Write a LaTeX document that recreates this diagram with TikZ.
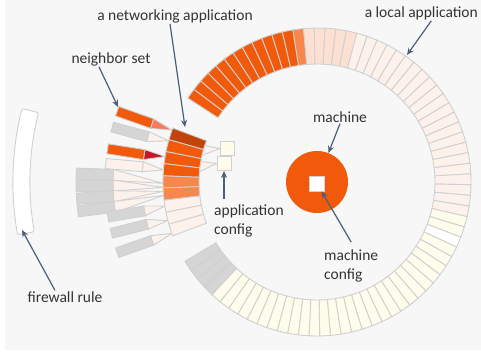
\documentclass[tikz,border=0pt]{standalone}
\usepackage{fontspec}
\setmainfont{Carlito}
\usepackage{xcolor}
\definecolor{nvbg}{HTML}{F7F7F7}
\definecolor{nvline}{HTML}{D0D0D0}
\definecolor{nvorange}{HTML}{F05A0A}
\definecolor{nvlight}{HTML}{F7874C}
\definecolor{nvdark}{HTML}{C2440A}
\definecolor{nvsalmon}{HTML}{F77A5C}
\definecolor{nvcrimson}{HTML}{C8152A}
\definecolor{nvpeach}{HTML}{FCE1D3}
\definecolor{nvpale}{HTML}{FDF1EC}
\definecolor{nvcream}{HTML}{FEFCEB}
\definecolor{nvgray}{HTML}{D5D5D5}
\definecolor{nvtext}{HTML}{333333}
\definecolor{nvarrow}{HTML}{4B5F7A}
\usepackage{tikz}
\usetikzlibrary{arrows.meta,positioning,calc}

\tikzset{
  segline/.style={draw=nvline,line width=0.9pt},
  cfgbox/.style={draw=nvline,fill=nvcream,line width=0.9pt,minimum size=14pt,inner sep=0pt},
  lbl/.style={text=nvtext,font=\fontsize{15.5}{19}\selectfont,inner sep=1pt},
  pointer/.style={draw=nvarrow,line width=1.2pt,-{Stealth[length=7pt,width=6pt]}},
}

\begin{document}
\begin{tikzpicture}[x=1pt,y=1pt]
\useasboundingbox (0,0) rectangle (481,352);
\fill[white] (0,0) rectangle (481,352);
\fill[nvbg] (5,2) rectangle (481,352);

\begin{scope}[shift={(317,170)}]
% ring of local applications
\foreach \first/\last/\col in {0/11/nvorange,12/12/nvlight,13/17/nvpeach,18/39/nvpale,
    40/41/nvcream,42/42/white,43/69/nvcream,70/73/nvgray}{
  \foreach \i in {\first,...,\last}{
    \pgfmathsetmacro\aa{147-4*\i}
    \pgfmathsetmacro\ab{\aa-4}
    \draw[segline,fill=\col] (\aa:118) arc[start angle=\aa,end angle=\ab,radius=118]
      -- (\ab:154) arc[start angle=\ab,end angle=\aa,radius=154] -- cycle;
  }
}
% firewall rule
\draw[segline,fill=white,rounded corners=2pt] (166:287) arc[start angle=166,end angle=190,radius=287]
  -- (190:304) arc[start angle=190,end angle=166,radius=304] -- cycle;
% neighbor set
\foreach \t/\tip in {178/180.5,181/182,184/183.5,187/185}{
  \begin{scope}[rotate=\t]
    \draw[segline,fill=nvpale] (204,-5.5) -- (204,5.5) -- ({\tip-\t}:154) -- cycle;
  \end{scope}
}
\foreach \t in {178,181,184,187}{
  \begin{scope}[rotate=\t]
    \draw[segline,fill=nvgray] (204,-5.5) rectangle (241,5.5);
  \end{scope}
}
\foreach \t/\col/\tip/\tcol in {160.5/nvorange/160.3/nvsalmon,165/nvgray/164.5/nvpale,
    171/nvorange/170.5/nvcrimson,175/nvpale/175.5/nvpale,189.5/nvgray/189/nvpale,
    194/nvgray/194.5/nvpale,199.5/nvgray/199.5/nvpale}{
  \begin{scope}[rotate=\t]
    \draw[segline,fill=\tcol] (175,-5) -- (175,5) -- ({\tip-\t}:154) -- cycle;
    \draw[segline,fill=\col] (175,-5) rectangle (212,5);
  \end{scope}
}
% networking application
\foreach \k/\col in {0/nvdark,1/nvorange,2/nvorange,3/nvorange,4/nvlight,
    5/nvlight,6/nvpale,7/nvpale,8/nvpale}{
  \pgfmathsetmacro\aa{159.5+4.55*\k}
  \pgfmathsetmacro\ab{\aa+4.55}
  \draw[segline,fill=\col] (\aa:118) arc[start angle=\aa,end angle=\ab,radius=118]
    -- (\ab:154) arc[start angle=\ab,end angle=\aa,radius=154] -- cycle;
}
\end{scope}

% application config
\node[cfgbox] (cfgA) at (227.5,203.5) {};
\node[cfgbox] (cfgB) at (224,188.5) {};
\draw[segline,fill=nvpale] ($(317,170)+(162:118)$) -- ($(317,170)+(167:118)$) -- (cfgA.west) -- cycle;
\draw[segline,fill=nvpale] ($(317,170)+(170:118)$) -- ($(317,170)+(175:118)$) -- (cfgB.west) -- cycle;

% machine
\node[circle,fill=nvorange,minimum size=62pt,inner sep=0pt] (machine) at (317,170) {};
\node[draw=nvline,fill=white,minimum size=15pt,inner sep=0pt] (mcfg) at (317,168.5) {};

% labels
\node[lbl] (netlbl) at (175,336) {a networking application};
\node[lbl] (nbrlbl) at (111,293) {neighbor set};
\node[lbl,anchor=east] (loclbl) at (479,339) {a local application};
\node[lbl] (machinelbl) at (340,235) {machine};
\node[lbl,anchor=west,align=left] (mcfglbl) at (323,86.5) {machine\\config};
\node[lbl,anchor=west,align=left] (appcfglbl) at (213,131) {application\\config};
\node[lbl] (fwlbl) at (65,55) {firewall rule};

\coordinate (nettip) at (185,225);
\coordinate (nbrtip) at (118,245);
\coordinate (loctip) at (407,297);
\coordinate (fwtip) at (22,122);

\draw[pointer] ([xshift=-5pt]netlbl.south) -- (nettip);
\draw[pointer] ([xshift=-12pt]nbrlbl.south) -- (nbrtip);
\draw[pointer] ([xshift=10pt]loclbl.south) -- (loctip);
\draw[pointer] (machinelbl.south) -- (machine);
\draw[pointer] ([yshift=6pt]mcfglbl.north) -- (mcfg);
\draw[pointer] ($(cfgB |- appcfglbl.north)+(0,5)$) -- (cfgB);
\draw[pointer] ([xshift=-10pt]fwlbl.north) -- (fwtip);
\end{tikzpicture}
\end{document}
